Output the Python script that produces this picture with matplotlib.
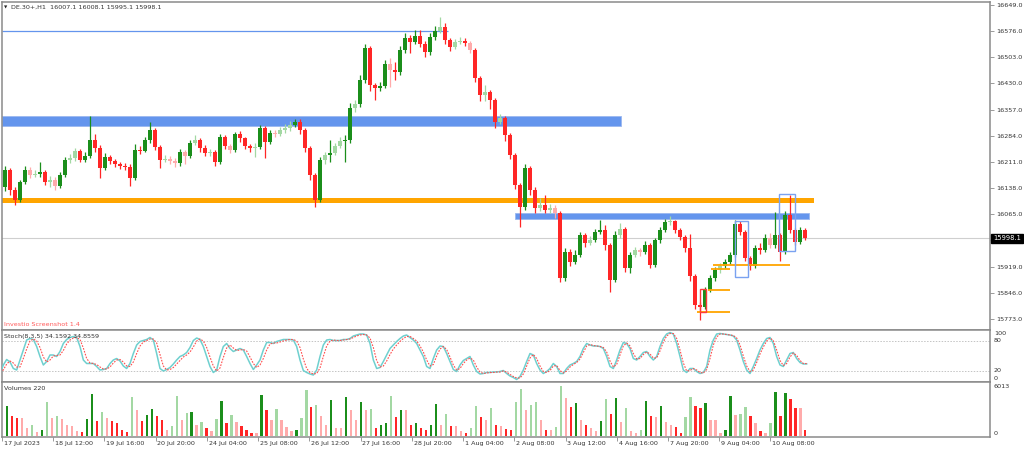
import numpy as np
import matplotlib
matplotlib.use("Agg")
import matplotlib.pyplot as plt
from matplotlib import font_manager
from matplotlib.patches import Rectangle
from matplotlib.transforms import blended_transform_factory

# ---------------- data ----------------
SYMBOL = "DE.30+,H1"
LAST_OHLC = "16007.1 16008.1 15995.1 15998.1"
LAST_PRICE = 15998.1
STOCH_TEXT = "Stoch(8,3,5) 34.1592 34.8559"
VOL_TEXT = "Volumes 220"
WATERMARK = "Investio Screenshot 1.4"
VOL_MAX_LABEL = 6013

FIRST_OPEN = 16141
CLOSES = [
    16189, 16133, 16105, 16155, 16189, 16175, 16178, 16183, 16155, 16161,
    16144, 16175, 16217, 16222, 16242, 16217, 16228, 16272, 16250, 16194,
    16225, 16214, 16205, 16200, 16198, 16166, 16245, 16242, 16272, 16300,
    16253, 16217, 16219, 16214, 16208, 16239, 16228, 16264, 16272, 16250,
    16236, 16239, 16211, 16281, 16256, 16245, 16289, 16278, 16256, 16250,
    16254, 16306, 16267, 16292, 16290, 16300, 16306, 16314, 16323, 16300,
    16250, 16175, 16105, 16217, 16231, 16236, 16256, 16270, 16272, 16362,
    16373, 16440, 16529, 16426, 16417, 16424, 16484, 16468, 16462, 16524,
    16557, 16546, 16563, 16540, 16518, 16560, 16577, 16588, 16551, 16532,
    16546, 16549, 16543, 16524, 16445, 16398, 16406, 16384, 16323, 16334,
    16286, 16231, 16147, 16085, 16194, 16133, 16083, 16091, 16077, 16083,
    16069, 15887, 15960, 15932, 15952, 16007, 15985, 15993, 16016, 16021,
    15979, 15882, 16007, 16024, 15915, 15952, 15966, 15960, 15979, 15924,
    15993, 16021, 16044, 16046, 16021, 16002, 15971, 15893, 15812, 15806,
    15854, 15887, 15910, 15921, 15932, 15952, 16038, 16016, 15943, 15921,
    15971, 15966, 15999, 15979, 16007, 15960, 16063, 16021, 15988, 16021,
    15998.1,
]
HIGHS = [
    16200, 16195, 16140, 16162, 16200, 16196, 16190, 16210, 16190, 16172,
    16168, 16182, 16225, 16232, 16250, 16248, 16240, 16339, 16290, 16258,
    16235, 16230, 16220, 16212, 16208, 16204, 16260, 16255, 16282, 16323,
    16305, 16258, 16230, 16228, 16222, 16248, 16245, 16272, 16285, 16278,
    16258, 16248, 16245, 16290, 16286, 16262, 16296, 16298, 16282, 16262,
    16265, 16315, 16312, 16300, 16300, 16310, 16318, 16325, 16332, 16330,
    16305, 16255, 16180, 16225, 16240, 16272, 16265, 16280, 16285, 16375,
    16385, 16455, 16540, 16535, 16432, 16435, 16495, 16500, 16490, 16535,
    16570, 16565, 16578, 16580, 16548, 16570, 16590, 16615, 16600, 16558,
    16555, 16560, 16556, 16548, 16528, 16450, 16425, 16412, 16390, 16345,
    16340, 16292, 16236, 16152, 16205, 16200, 16140, 16110, 16119, 16095,
    16090, 16075, 15970, 15968, 15965, 16015, 16012, 16005, 16025, 16049,
    16035, 15985, 16018, 16040, 16030, 15960, 15975, 15972, 15990, 15985,
    16000, 16030, 16052, 16060, 16050, 16028, 16008, 16010, 15898, 15820,
    15862, 15895, 15918, 15930, 15940, 15960, 16050, 16045, 16022, 15950,
    15980, 15985, 16010, 16012, 16071, 16012, 16075, 16119, 16028, 16030,
    16026,
]
LOWS = [
    16130, 16120, 16091, 16098, 16150, 16165, 16168, 16170, 16148, 16140,
    16133, 16138, 16170, 16208, 16215, 16210, 16212, 16222, 16240, 16166,
    16188, 16205, 16198, 16192, 16190, 16144, 16160, 16232, 16238, 16265,
    16245, 16195, 16210, 16205, 16198, 16200, 16205, 16222, 16258, 16240,
    16228, 16228, 16200, 16205, 16248, 16236, 16240, 16268, 16246, 16240,
    16225, 16248, 16222, 16260, 16280, 16284, 16292, 16298, 16308, 16290,
    16240, 16160, 16085, 16098, 16205, 16210, 16230, 16250, 16211, 16265,
    16350, 16365, 16430, 16410, 16385, 16410, 16418, 16420, 16440, 16455,
    16515, 16515, 16540, 16532, 16505, 16510, 16552, 16570, 16540, 16522,
    16525, 16540, 16535, 16515, 16435, 16380, 16380, 16360, 16305, 16318,
    16270, 16220, 16135, 16030, 16078, 16120, 16070, 16075, 16068, 16070,
    16055, 15876, 15880, 15920, 15925, 15945, 15975, 15978, 15988, 16010,
    15965, 15848, 15875, 16000, 15905, 15900, 15945, 15950, 15955, 15915,
    15918, 15985, 16015, 16035, 16012, 15992, 15960, 15880, 15800, 15770,
    15800, 15848, 15880, 15902, 15915, 15925, 15945, 16008, 15935, 15910,
    15915, 15955, 15960, 15970, 15972, 15935, 15955, 16012, 15978, 15982,
    15992,
]
VOLUMES = [
    3600, 2400, 2160, 2160, 960, 1320, 480, 720, 4080, 2160,
    2400, 2040, 1320, 1200, 600, 480, 2040, 5040, 1800, 2880,
    2160, 1800, 1560, 720, 480, 4680, 3120, 1800, 2520, 3240,
    2400, 1920, 720, 1200, 4800, 1920, 2760, 2880, 1320, 1680,
    960, 600, 2040, 4200, 1560, 2520, 1680, 1200, 720, 360,
    360, 4920, 3120, 1920, 3240, 1920, 1080, 600, 720, 2160,
    5520, 3480, 3720, 2400, 1320, 4320, 960, 960, 4680, 3120,
    1920, 4080, 3120, 3240, 960, 1320, 1560, 4800, 2280, 3120,
    3120, 1320, 1560, 960, 720, 1320, 3840, 1320, 2640, 1200,
    1200, 600, 360, 960, 3600, 2280, 1920, 3360, 1320, 1200,
    840, 720, 4080, 5640, 3120, 3720, 4080, 1920, 720, 720,
    1080, 6013, 4560, 3480, 3960, 1920, 1320, 960, 600, 1800,
    4440, 2640, 4560, 1680, 3360, 600, 360, 720, 4200, 2400,
    2280, 3600, 1680, 1320, 1080, 360, 2280, 4680, 3600, 3360,
    3960, 1920, 1920, 360, 720, 4800, 2520, 2640, 3480, 2400,
    1560, 600, 360, 1560, 5280, 2400, 5160, 4440, 3360, 3360,
    720,
]
STOCH_MAIN = [
    15, 32, 43, 38, 25, 22, 42, 62, 82, 85, 83, 69, 49, 32, 39, 52, 52, 49, 59, 75,
    83, 87, 89, 87, 69, 42, 35, 35, 35, 29, 22, 23, 25, 35, 42, 45, 40, 30, 25, 35,
    55, 72, 79, 81, 83, 87, 82, 55, 25, 20, 23, 27, 34, 42, 49, 52, 57, 67, 81, 86,
    83, 69, 49, 29, 17, 22, 49, 69, 75, 65, 59, 62, 65, 62, 49, 35, 23, 32, 42, 62,
    77, 77, 75, 79, 81, 83, 83, 83, 82, 69, 42, 21, 17, 14, 12, 22, 49, 72, 82, 83,
    81, 81, 81, 83, 83, 85, 90, 92, 94, 94, 92, 75, 42, 25, 27, 39, 52, 65, 72, 79,
    85, 90, 92, 87, 82, 75,
    62, 49, 29, 25, 45, 62, 70, 69, 55, 39, 23, 19, 32, 41, 45, 49, 32, 19, 14, 15,
    17, 17, 18, 18, 19, 21, 15, 10, 7, 3, 9, 22, 39, 55, 52, 35, 22, 15, 19, 25,
    35, 29, 15, 15, 25, 32, 35, 39, 49, 65, 75, 72, 70, 70, 69, 65, 49, 29, 25, 42,
    62, 77, 75, 65, 45, 42, 49, 57, 59, 49, 42, 49, 69, 85, 94, 97, 94, 75, 49, 22,
    17, 25, 25, 19, 15, 17, 29, 62, 82, 94, 95, 94, 93, 92, 90, 82, 62, 39, 22, 15,
    29, 45, 62, 75, 85, 87, 75, 49, 32, 29, 42, 55, 57, 45, 37, 34, 34.1592,
]
STOCH_SIGNAL = [
    18, 22, 34, 40, 36, 28, 28, 45, 64, 80, 84, 80, 67, 48, 38, 42, 50, 51, 52, 61,
    74, 82, 86, 87, 83, 66, 45, 36, 35, 33, 28, 24, 24, 28, 36, 42, 43, 38, 30, 29,
    38, 55, 70, 78, 81, 84, 84, 76, 53, 30, 22, 23, 27, 34, 41, 48, 52, 58, 68, 80,
    84, 80, 67, 48, 30, 20, 26, 47, 66, 72, 66, 61, 62, 63, 60, 48, 35, 27, 32, 45,
    62, 74, 76, 76, 78, 80, 82, 83, 83, 80, 67, 44, 25, 17, 14, 15, 26, 49, 70, 80,
    82, 81, 81, 82, 83, 84, 87, 90, 92, 93, 92, 86, 67, 41, 28, 30, 40, 53, 64, 72,
    79, 85, 89, 89, 85, 80,
    70, 58, 42, 30, 33, 50, 64, 69, 63, 48, 32, 22, 25, 35, 42, 46, 42, 28, 18, 15,
    16, 17, 17, 18, 18, 20, 18, 13, 9, 6, 6, 14, 30, 46, 53, 45, 30, 19, 17, 21,
    30, 31, 21, 16, 20, 28, 33, 37, 44, 57, 70, 73, 71, 70, 69, 67, 58, 40, 28, 33,
    52, 70, 76, 70, 55, 44, 45, 53, 58, 54, 46, 46, 60, 78, 90, 95, 95, 85, 62, 36,
    20, 21, 25, 22, 17, 16, 23, 45, 72, 88, 94, 94, 93, 92, 91, 86, 72, 50, 30, 19,
    22, 37, 54, 68, 80, 86, 81, 62, 41, 31, 35, 48, 56, 51, 41, 35, 34.8559,
]
PRICE_TICKS = [16649.0, 16576.0, 16503.0, 16430.0, 16357.0, 16284.0, 16211.0,
               16138.0, 16065.0, 15992.0, 15919.0, 15846.0, 15773.0]
X_LABELS = ["17 Jul 2023", "18 Jul 12:00", "19 Jul 16:00", "20 Jul 20:00",
            "24 Jul 04:00", "25 Jul 08:00", "26 Jul 12:00", "27 Jul 16:00",
            "28 Jul 20:00", "1 Aug 04:00", "2 Aug 08:00", "3 Aug 12:00",
            "4 Aug 16:00", "7 Aug 20:00", "9 Aug 04:00", "10 Aug 08:00"]

# drawn objects: price levels and bar-index extents
BLUE_ZONES = [(16311, 16339, -0.6, 123.2), (16052, 16069, 102.0, 160.8)]
ORANGE_ZONE = (16096, 16110, -0.6, 161.8)
BLUE_LINE = (16576, -0.6, 88.6)
ORANGE_LEVELS = [(15924.5, 141.6, 157.0), (15912.4, 141.2, 145.0),
                 (15853.9, 140.6, 145.0), (15792.5, 138.4, 145.0)]
RED_BOXES = [(139.0, 140.2, 15792.5, 15856.6)]
BLUE_BOXES = [(145.9, 148.5, 15891.0, 16047.0), (154.8, 157.9, 15962.6, 16121.7)]

# ---------------- layout constants ----------------
W, H = 1024, 449
XLIM = (-0.6, 197.0)
LABEL_STEP = 10.267
LABEL_OFFSET = -1.0
STOCH_X0 = -1.0
STOCH_DX = 2.0 / 3.0
FADE_BODY = 22.0   # small-bodied candles on falling-volume bars are drawn faded

names = {f.name for f in font_manager.fontManager.ttflist}
if "Liberation Sans Narrow" in names:
    FONT, FS = "Liberation Sans Narrow", 5.7
else:
    FONT, FS = "DejaVu Sans", 4.6
plt.rcParams["font.family"] = [FONT, "DejaVu Sans"]

G_DARK, G_LIGHT = "#1b8e1b", "#a3d8a3"
R_DARK, R_LIGHT = "#ff2626", "#ffabab"
BLUE = "#6495ed"
ORANGE = "#ffa500"
SPINE = "#8a8a8a"
TXT = "#333333"

fig = plt.figure(figsize=(W / 100, H / 100), dpi=100)
fig.patch.set_facecolor("white")


def px_axes(l, t, r, b):
    return fig.add_axes([l / W, 1 - b / H, (r - l) / W, (b - t) / H])


ax = px_axes(2, 2, 990, 330)
axs = px_axes(2, 330, 990, 382)
axv = px_axes(2, 382, 990, 437)

for a in (ax, axs, axv):
    a.set_xlim(*XLIM)
    a.set_facecolor("white")
    for s in a.spines.values():
        s.set_color(SPINE)
        s.set_linewidth(1.1)
    a.tick_params(axis="x", bottom=False, labelbottom=False)
    a.yaxis.tick_right()

# ---------------- main candles ----------------
closes = np.array(CLOSES, dtype=float)
opens = np.concatenate([[FIRST_OPEN], closes[:-1]])
highs = np.maximum(np.array(HIGHS, float), np.maximum(opens, closes))
lows = np.minimum(np.array(LOWS, float), np.minimum(opens, closes))
vols = np.array(VOLUMES, dtype=float)
idx = np.arange(len(closes))
bull = closes >= opens
vol_up = np.concatenate([[True], vols[1:] > vols[:-1]])
light = bull != vol_up
c_light = light & (np.abs(closes - opens) < FADE_BODY)

c_col = [(G_LIGHT if l else G_DARK) if b else (R_LIGHT if l else R_DARK)
         for b, l in zip(bull, c_light)]

ax.set_ylim(15742.2, 16657.4)
ax.axhline(LAST_PRICE, color="#cfcfcf", lw=0.8, zorder=1)

for lo, hi, x0, x1 in BLUE_ZONES:
    ax.add_patch(Rectangle((x0, lo), x1 - x0, hi - lo, facecolor=BLUE,
                           edgecolor="#9bb8f0", lw=0.6, zorder=2))
lo, hi, x0, x1 = ORANGE_ZONE
ax.add_patch(Rectangle((x0, lo), x1 - x0, hi - lo, facecolor=ORANGE,
                       edgecolor="none", zorder=2))
p, x0, x1 = BLUE_LINE
ax.hlines(p, x0, x1, color=BLUE, lw=0.9, zorder=2)

ax.vlines(idx, lows, highs, colors=c_col, lw=0.9, zorder=3)
body_h = np.maximum(np.abs(closes - opens), 2.0)
ax.bar(idx, body_h, bottom=np.minimum(opens, closes), width=0.7,
       color=c_col, linewidth=0, zorder=4)

for p, x0, x1 in ORANGE_LEVELS:
    ax.hlines(p, x0, x1, color=ORANGE, lw=1.3, zorder=5)
for x0, x1, lo, hi in RED_BOXES:
    ax.add_patch(Rectangle((x0, lo), x1 - x0, hi - lo, facecolor="none",
                           edgecolor="#ff3b3b", lw=1.0, zorder=6))
for x0, x1, lo, hi in BLUE_BOXES:
    ax.add_patch(Rectangle((x0, lo), x1 - x0, hi - lo, facecolor="none",
                           edgecolor="#7aa2f0", lw=1.0, zorder=6))

ax.set_yticks(PRICE_TICKS)
ax.set_yticklabels([f"{v:.1f}" for v in PRICE_TICKS])
ax.tick_params(axis="y", length=3, width=0.6, color=SPINE, pad=1.5,
               labelsize=FS, labelcolor=TXT)

btr = blended_transform_factory(ax.transAxes, ax.transData)
ax.text(1 + 3 / 988, LAST_PRICE, f"{LAST_PRICE:.1f}", transform=btr,
        ha="left", va="center", fontsize=FS + 0.3, color="white", zorder=10,
        bbox=dict(facecolor="black", edgecolor="black", pad=1.2),
        clip_on=False)

# ---------------- stochastic ----------------
sm = np.array(STOCH_MAIN, float)
ss = np.array(STOCH_SIGNAL, float)
sx = STOCH_X0 + np.arange(len(sm)) * STOCH_DX
sxs = STOCH_X0 + np.arange(len(ss)) * STOCH_DX
axs.set_ylim(-2, 102)
axs.set_yticks([])
for lev in (80, 20):
    axs.axhline(lev, color="#c4c4c4", lw=0.7, ls=(0, (1.5, 1.5)), zorder=1)
axs.plot(sx, sm, color="#6fd0cf", lw=1.1, zorder=3)
axs.plot(sxs, ss, color="#ff4d4d", lw=0.8, ls=(0, (1.5, 1.2)), zorder=4)
strf = blended_transform_factory(axs.transAxes, axs.transData)
for val, va in ((100, "top"), (80, "center"), (20, "center"), (0, "bottom")):
    axs.text(1 + 4 / 988, val, f"{val}", transform=strf, ha="left", va=va,
             fontsize=FS, color=TXT, clip_on=False)

# ---------------- volumes ----------------
v_col = [(G_LIGHT if l else G_DARK) if u else (R_LIGHT if l else R_DARK)
         for u, l in zip(vol_up, light)]
axv.set_ylim(-120, 6494)
axv.set_yticks([])
axv.bar(idx, vols, width=0.45, color=v_col, linewidth=0)
vtr = blended_transform_factory(axv.transAxes, axv.transData)
axv.text(1 + 4 / 988, 0.97, f"{VOL_MAX_LABEL}", transform=axv.transAxes,
         ha="left", va="top", fontsize=FS, color=TXT, clip_on=False)
axv.text(1 + 4 / 988, 0, "0", transform=vtr, ha="left", va="bottom",
         fontsize=FS, color=TXT, clip_on=False)

tick_pos = LABEL_OFFSET + np.arange(len(X_LABELS)) * LABEL_STEP
axv.set_xticks(tick_pos)
axv.tick_params(axis="x", bottom=True, labelbottom=False, length=3,
                width=0.6, color=SPINE, direction="out")
xtr = blended_transform_factory(axv.transData, axv.transAxes)
for pos, lab in zip(tick_pos, X_LABELS):
    axv.text(pos + 0.35, -0.07, lab, transform=xtr, ha="left", va="top",
             fontsize=FS, color=TXT, clip_on=False)

# ---------------- panel texts ----------------
def ftext(x, y, s, **kw):
    fig.text(x / W, 1 - y / H, s, **kw)


ftext(4, 7.5, "\u25bc", fontsize=FS - 1.5, color="#222222", va="center",
      ha="left", family="DejaVu Sans")
ftext(11, 7.5, f"{SYMBOL}  {LAST_OHLC}", fontsize=FS, color=TXT,
      va="center", ha="left")
ftext(4, 324.5, WATERMARK, fontsize=FS, color="#ff5a5a", va="center", ha="left")
ftext(4, 336.5, STOCH_TEXT, fontsize=FS, color=TXT, va="center", ha="left")
ftext(4, 389, VOL_TEXT, fontsize=FS, color=TXT, va="center", ha="left")

fig.savefig("out.png", dpi=100, facecolor="white")
